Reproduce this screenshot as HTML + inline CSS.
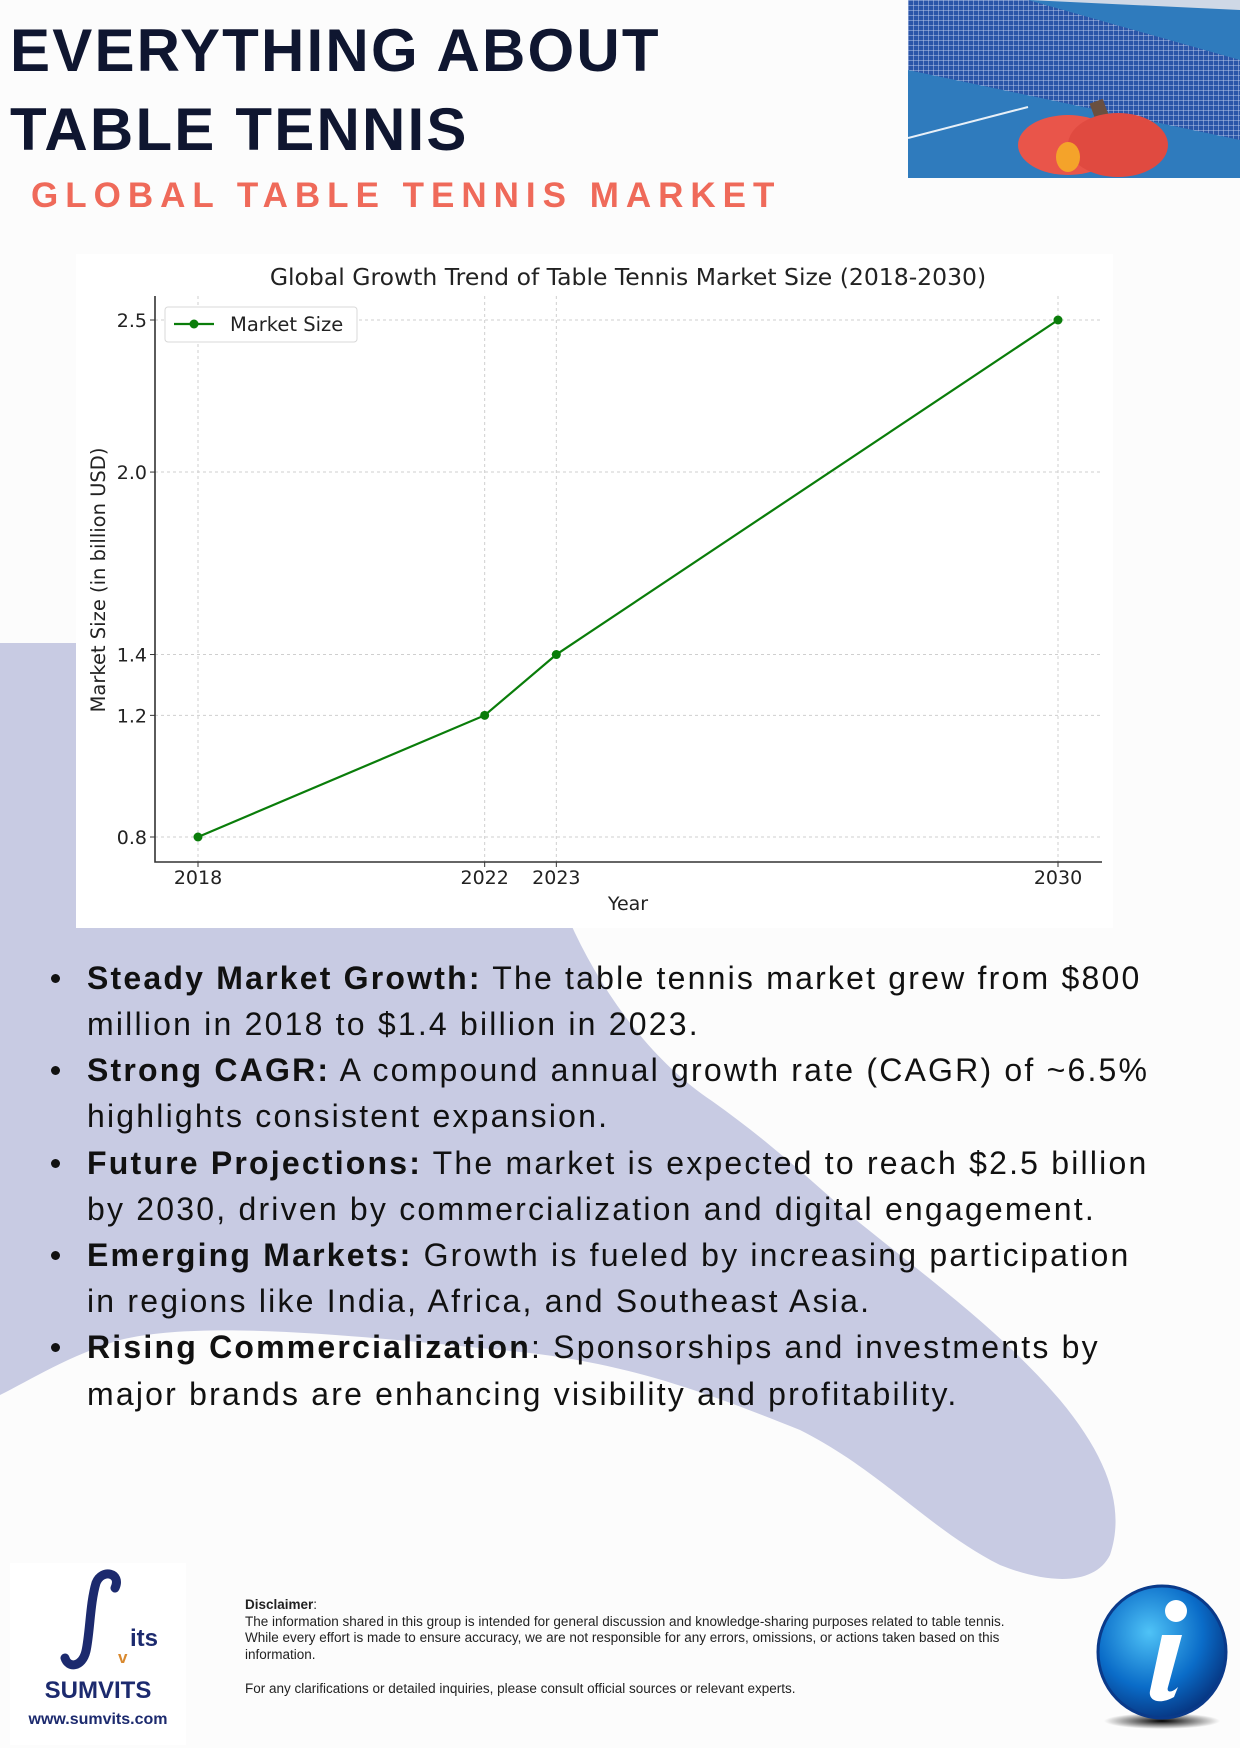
<!DOCTYPE html>
<html><head><meta charset="utf-8">
<style>
html,body{margin:0;padding:0}
body{width:1240px;height:1748px;position:relative;overflow:hidden;background:#fcfcfc;font-family:"Liberation Sans",sans-serif}
.abs{position:absolute}
.h1{left:10px;font-weight:bold;font-size:60px;color:#0f1630;letter-spacing:2.2px;white-space:nowrap}
.sub{left:31px;top:176px;font-weight:bold;font-size:35px;color:#ef6a5a;letter-spacing:7px;white-space:nowrap}
.bl{left:87px;font-size:32px;color:#111;white-space:nowrap;letter-spacing:2.2px;line-height:46px}
.dot{left:51px;width:9px;height:9px;border-radius:50%;background:#111}
.disc{left:245px;font-size:13.5px;color:#222;line-height:16.7px;white-space:nowrap}
</style></head>
<body>
<svg class="abs" style="left:0;top:0" width="1240" height="1748">
<path d="M0,643 L90,643 L90,920 L569,920 C600,990 650,1060 712,1101 C760,1135 800,1170 850,1215 C930,1280 1000,1330 1060,1400 C1110,1460 1125,1510 1110,1555 C1095,1585 1050,1585 1000,1565 C930,1530 880,1470 800,1430 C700,1390 620,1360 500,1350 C350,1335 200,1320 120,1340 C70,1355 30,1380 0,1395 Z" fill="#c8cbe3"/>
</svg>

<div class="abs h1" style="top:16px">EVERYTHING ABOUT</div>
<div class="abs h1" style="top:95px">TABLE TENNIS</div>
<div class="abs sub">GLOBAL TABLE TENNIS MARKET</div>

<svg class="abs" style="left:908px;top:0" width="332" height="178">
<defs><pattern id="net" width="5" height="5" patternUnits="userSpaceOnUse"><rect width="5" height="5" fill="#2a55a8"/><path d="M0,0H5M0,0V5" stroke="#b8c8e8" stroke-width="1"/></pattern></defs>
<rect width="332" height="178" fill="#2f7bbd"/>
<polygon points="0,0 120,0 332,60 332,140 0,70" fill="url(#net)"/>
<polygon points="120,0 332,0 332,10" fill="#cfd8e6"/>
<line x1="0" y1="138" x2="120" y2="107" stroke="#e8f0f8" stroke-width="2"/>
<rect x="188" y="100" width="14" height="40" fill="#6a5040" transform="rotate(-20 195 120)"/>
<ellipse cx="160" cy="145" rx="50" ry="30" fill="#e9554a"/>
<ellipse cx="210" cy="145" rx="50" ry="32" fill="#e04a40"/>
<ellipse cx="160" cy="157" rx="12" ry="15" fill="#f4a32a"/>
</svg>

<div class="abs" style="left:76px;top:254px;width:1037px;height:674px;background:#fff"></div>
<svg id="chart" class="abs" style="left:0;top:0" width="1240" height="1000" font-family="DejaVu Sans, sans-serif"></svg>

<div class="abs dot" style="top:974px"></div>
<div class="abs bl" style="top:955px"><b>Steady Market Growth:</b> The table tennis market grew from $800</div>
<div class="abs bl" style="top:1001px">million in 2018 to $1.4 billion in 2023.</div>
<div class="abs dot" style="top:1066px"></div>
<div class="abs bl" style="top:1047px"><b>Strong CAGR:</b> A compound annual growth rate (CAGR) of ~6.5%</div>
<div class="abs bl" style="top:1093px">highlights consistent expansion.</div>
<div class="abs dot" style="top:1159px"></div>
<div class="abs bl" style="top:1140px"><b>Future Projections:</b> The market is expected to reach $2.5 billion</div>
<div class="abs bl" style="top:1186px">by 2030, driven by commercialization and digital engagement.</div>
<div class="abs dot" style="top:1251px"></div>
<div class="abs bl" style="top:1232px"><b>Emerging Markets:</b> Growth is fueled by increasing participation</div>
<div class="abs bl" style="top:1278px">in regions like India, Africa, and Southeast Asia.</div>
<div class="abs dot" style="top:1343px"></div>
<div class="abs bl" style="top:1324px"><b>Rising Commercialization</b>: Sponsorships and investments by</div>
<div class="abs bl" style="top:1371px">major brands are enhancing visibility and profitability.</div>

<div class="abs" style="left:10px;top:1563px;width:176px;height:182px;background:#fff">
<svg width="176" height="182" style="position:absolute;left:0;top:0"><path d="M105,25 C112,10 92,5 86,20 C80,40 80,70 76,88 C72,105 58,105 55,95" stroke="#1c2a6e" stroke-width="9" fill="none" stroke-linecap="round"/></svg>
<div class="abs" style="left:120px;top:62px;font-size:24px;font-weight:bold;color:#1c2a6e">its</div>
<div class="abs" style="left:108px;top:85px;font-size:17px;font-weight:bold;color:#d9892f">v</div>
<div class="abs" style="left:0;width:176px;text-align:center;top:114px;font-size:24px;font-weight:bold;color:#1c2a6e">SUMVITS</div>
<div class="abs" style="left:0;width:176px;text-align:center;top:148px;font-size:16px;font-weight:bold;color:#1c2a6e">www.sumvits.com</div>
</div>

<div class="abs disc" style="top:1597px"><b>Disclaimer</b>:<br>The information shared in this group is intended for general discussion and knowledge-sharing purposes related to table tennis.<br>While every effort is made to ensure accuracy, we are not responsible for any errors, omissions, or actions taken based on this<br>information.<br><br>For any clarifications or detailed inquiries, please consult official sources or relevant experts.</div>

<svg class="abs" style="left:1090px;top:1575px" width="145" height="160">
<defs><radialGradient id="ig" cx="0.4" cy="0.35" r="0.7"><stop offset="0" stop-color="#4fc3f7"/><stop offset="0.6" stop-color="#0a6cc8"/><stop offset="1" stop-color="#06307a"/></radialGradient>
<radialGradient id="sh"><stop offset="0" stop-color="#000"/><stop offset="1" stop-color="#000" stop-opacity="0"/></radialGradient></defs>
<ellipse cx="72" cy="146" rx="58" ry="8" fill="url(#sh)"/>
<ellipse cx="72" cy="77" rx="64" ry="66" fill="url(#ig)" stroke="#0a3a8a" stroke-width="3"/>
<circle cx="86" cy="36" r="11" fill="#fff"/>
<path d="M72,60 L92,60 L78,112 C76,118 82,118 88,112 L84,122 C70,130 58,126 60,116 Z" fill="#fff"/>
</svg>

<script>
const years = [2018, 2022, 2023, 2030];
const marketSize = [0.8, 1.2, 1.4, 2.5];
const yTicks = [0.8, 1.2, 1.4, 2.0, 2.5];
const xTicks = [2018, 2022, 2023, 2030];
const svg = document.getElementById('chart');
const NS = 'http://www.w3.org/2000/svg';
const xs = v => 198 + (v - 2018) * (1058 - 198) / 12;
const ys = v => 837 - (v - 0.8) * (837 - 320) / 1.7;
function mk(tag, attrs, text) {
  const e = document.createElementNS(NS, tag);
  for (const k in attrs) e.setAttribute(k, attrs[k]);
  if (text !== undefined) e.textContent = text;
  svg.appendChild(e);
  return e;
}
yTicks.forEach(t => {
  const g = mk('line', {x1:155, x2:1102, y1:ys(t), y2:ys(t), stroke:'#cfcfcf', 'stroke-dasharray':'3,3', 'stroke-width':1});
  
  
  const tk = mk('line', {x1:150, x2:155, y1:ys(t), y2:ys(t), stroke:'#333'});
  
  
  const l = mk('text', {x:147, y:ys(t)+7, 'text-anchor':'end', 'font-size':19, fill:'#222'}, t.toFixed(1));
  
  
});
xTicks.forEach(t => {
  const g = mk('line', {x1:xs(t), x2:xs(t), y1:296, y2:862, stroke:'#cfcfcf', 'stroke-dasharray':'3,3', 'stroke-width':1});
  
  
  const tk = mk('line', {x1:xs(t), x2:xs(t), y1:862, y2:867, stroke:'#333'});
  
  
  const l = mk('text', {x:xs(t), y:884, 'text-anchor':'middle', 'font-size':19, fill:'#222'}, String(t));
  
  
});
const ax = mk('path', {d:'M155,296 V862 H1102', stroke:'#333', 'stroke-width':1.6, fill:'none'});


const line = mk('polyline', {points: years.map((y,i)=>xs(y)+','+ys(marketSize[i])).join(' '), stroke:'#0a7d0a', 'stroke-width':2.2, fill:'none'});


years.forEach((y,i) => {
  const c = mk('circle', {cx:xs(y), cy:ys(marketSize[i]), r:4.5, fill:'#0a7d0a'});
  
  
});
const tt = mk('text', {x:628, y:285, 'text-anchor':'middle', 'font-size':23.5, fill:'#222'}, 'Global Growth Trend of Table Tennis Market Size (2018-2030)');


const xt = mk('text', {x:628, y:910, 'text-anchor':'middle', 'font-size':19, fill:'#222'}, 'Year');


const yt = mk('text', {x:0, y:0, 'text-anchor':'middle', 'font-size':19.5, fill:'#222', transform:'translate(105,580) rotate(-90)'}, 'Market Size (in billion USD)');


const lb = mk('rect', {x:165, y:307, width:192, height:35, rx:3, fill:'#fff', stroke:'#d8d8d8'});


const ll = mk('line', {x1:174, x2:214, y1:324, y2:324, stroke:'#0a7d0a', 'stroke-width':2.2});


const lc = mk('circle', {cx:194, cy:324, r:4.5, fill:'#0a7d0a'});


const lt = mk('text', {x:230, y:331, 'font-size':19.5, fill:'#222'}, 'Market Size');


</script>
</body></html>
